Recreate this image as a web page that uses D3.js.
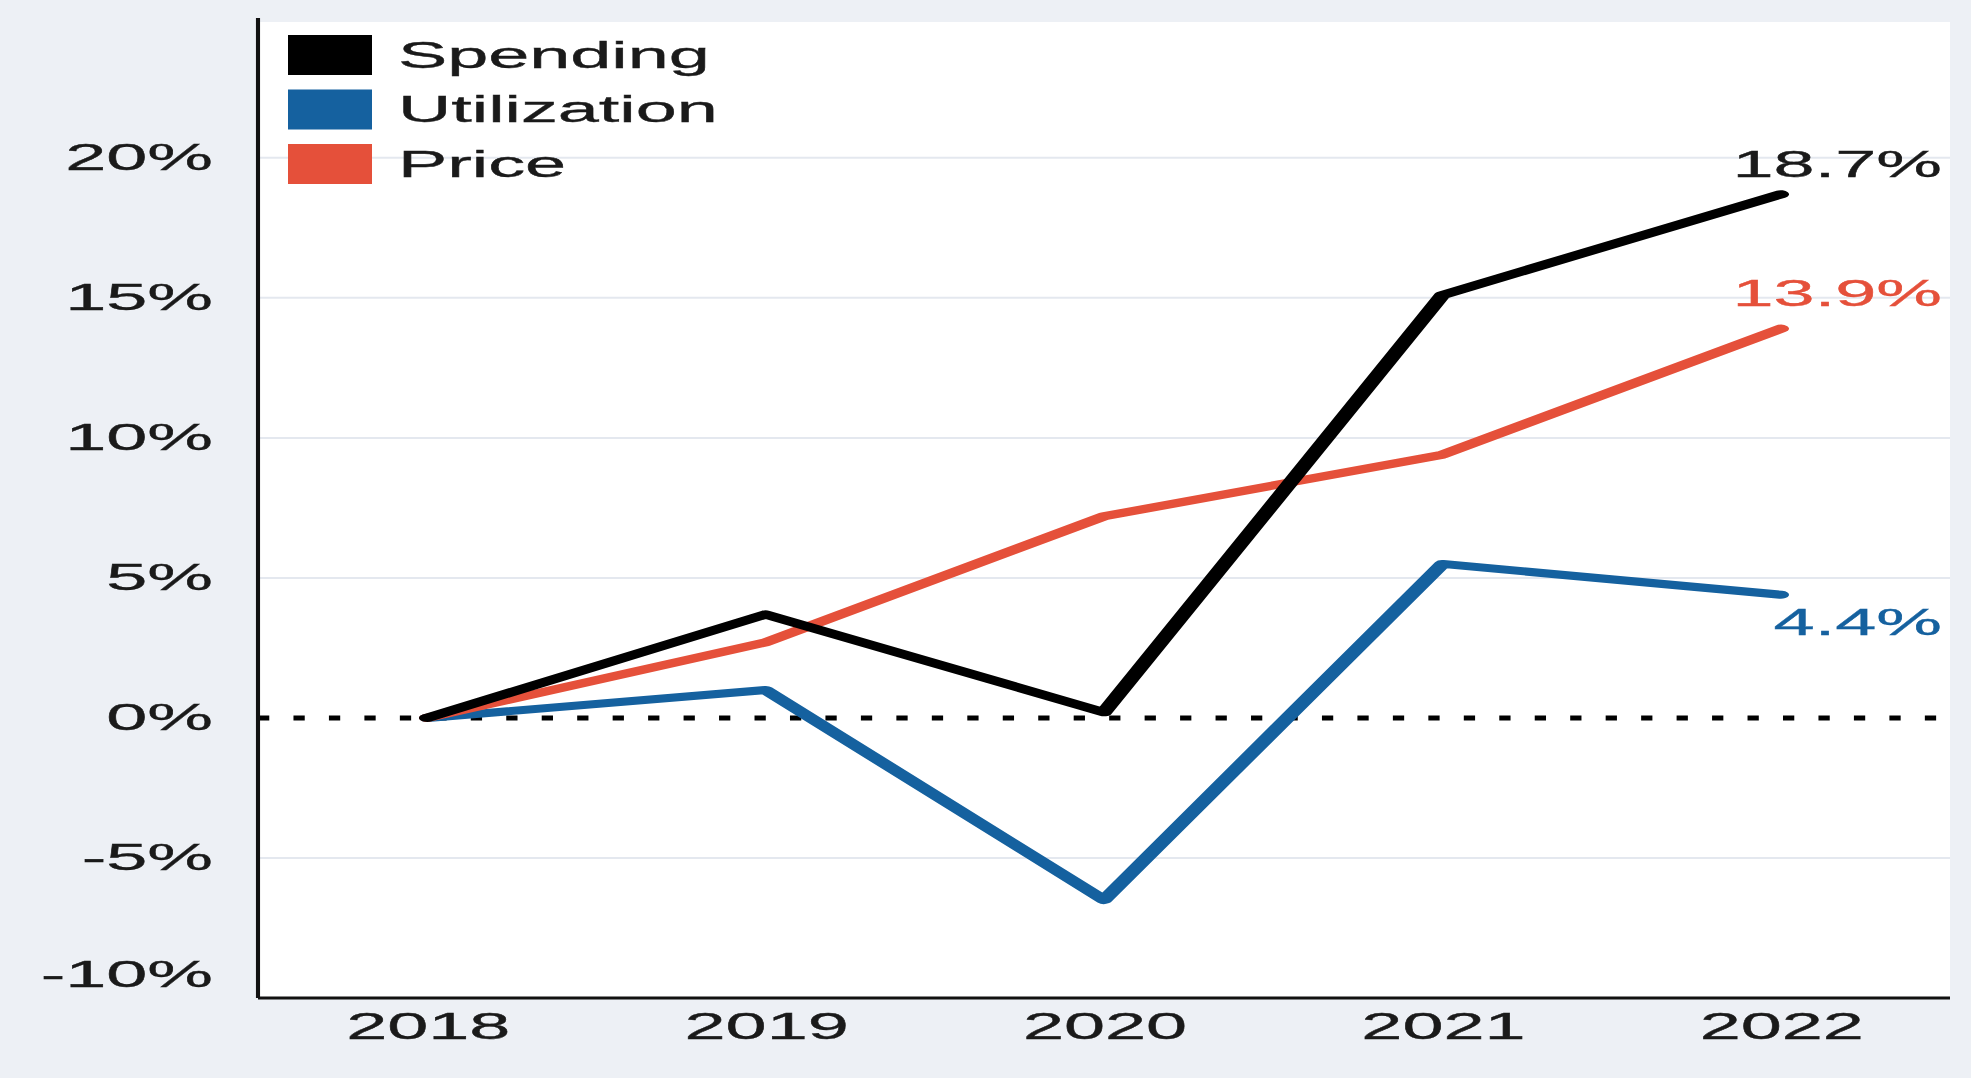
<!DOCTYPE html>
<html>
<head>
<meta charset="utf-8">
<script src="https://cdn.jsdelivr.net/npm/d3@7"></script>
<style>
  html, body { margin: 0; padding: 0; background: #edf0f5; }
  svg { display: block; }
  text { font-family: "Liberation Sans", Arial, sans-serif; stroke-width: 0.35px; }
</style>
</head>
<body>
<div id="chart"></div>
<script>
// Data
const years = ["2018", "2019", "2020", "2021", "2022"];
const spending = [0, 3.7, 0.2, 15.1, 18.7];
const utilization = [0, 1.0, -6.5, 5.5, 4.4];
const price = [0, 2.7, 7.2, 9.4, 13.9];
const yTicks = [-10, -5, 0, 5, 10, 15, 20];

const seriesNames = ["Spending", "Utilization", "Price"];
const seriesColors = ["#000000", "#15619f", "#e5503a"];

const W = 1971, H = 1078;
// the reference is drawn squeezed and then stretched sideways
const SX = 2.05;
const vbW = W / SX;
const fontSize = 36;
const textColor = "#1a1a1a";

const margin = { top: 22, right: (W - 1950) / SX, bottom: H - 998, left: 258 / SX };

const svg = d3.select("#chart")
    .append("svg")
    .attr("width", W)
    .attr("height", H)
    .attr("viewBox", `0 0 ${vbW} ${H}`)
    .attr("preserveAspectRatio", "none");

svg.append("rect")
    .attr("width", vbW).attr("height", H)
    .attr("fill", "#edf0f5");

// plot area
svg.append("rect")
    .attr("x", margin.left)
    .attr("y", margin.top)
    .attr("width", vbW - margin.left - margin.right)
    .attr("height", H - margin.top - margin.bottom)
    .attr("fill", "#ffffff");

const x = d3.scalePoint()
    .domain(years)
    .range([margin.left, vbW - margin.right])
    .padding(0.5);

const y = d3.scaleLinear()
    .domain([-10, 24.85])
    .range([H - margin.bottom, margin.top]);

// gridlines
svg.append("g")
    .selectAll("line")
    .data(yTicks.filter(d => d !== 0 && d !== -10))
    .join("line")
    .attr("x1", margin.left)
    .attr("x2", vbW - margin.right)
    .attr("y1", d => y(d))
    .attr("y2", d => y(d))
    .attr("stroke", "#e4e8ef")
    .attr("stroke-width", 2);

// zero line, dotted
svg.append("line")
    .attr("x1", margin.left)
    .attr("x2", vbW - margin.right)
    .attr("y1", y(0))
    .attr("y2", y(0))
    .attr("stroke", "#000")
    .attr("stroke-width", 5)
    .attr("stroke-dasharray", "5.5 11.8");

// y axis labels
const yAxis = svg.append("g")
    .attr("transform", `translate(${margin.left},0)`)
    .call(d3.axisLeft(y).tickValues(yTicks).tickFormat(d => d + "%").tickSize(0).tickPadding(22));
yAxis.select(".domain").remove();
yAxis.selectAll("text")
    .attr("font-size", fontSize)
    .attr("font-family", "Liberation Sans, Arial, sans-serif")
    .attr("fill", textColor)
    .attr("stroke", textColor);
// bottom label is pushed up off the axis line
yAxis.selectAll(".tick")
    .filter(d => d === -10)
    .select("text")
    .attr("y", -23);

// x axis labels
const xAxis = svg.append("g")
    .attr("transform", `translate(0,${H - margin.bottom})`)
    .call(d3.axisBottom(x).tickSize(0).tickPadding(15));
xAxis.select(".domain").remove();
xAxis.selectAll("text")
    .attr("font-size", fontSize)
    .attr("font-family", "Liberation Sans, Arial, sans-serif")
    .attr("fill", textColor)
    .attr("stroke", textColor);

// axis lines
svg.append("line")
    .attr("x1", margin.left).attr("x2", margin.left)
    .attr("y1", margin.top - 4).attr("y2", H - margin.bottom)
    .attr("stroke", "#111").attr("stroke-width", 2);
svg.append("line")
    .attr("x1", margin.left).attr("x2", vbW - margin.right)
    .attr("y1", H - margin.bottom).attr("y2", H - margin.bottom)
    .attr("stroke", "#111").attr("stroke-width", 3);

// series lines
const allSeries = [spending, utilization, price];
const line = d3.line()
    .x((d, i) => x(years[i]))
    .y(d => y(d));

// draw blue first, then red, black on top
[1, 2, 0].forEach(k => {
    svg.append("path")
        .datum(allSeries[k])
        .attr("d", line)
        .attr("fill", "none")
        .attr("stroke", seriesColors[k])
        .attr("stroke-width", 8)
        .attr("stroke-linejoin", "round")
        .attr("stroke-linecap", "round");
});

// end labels
const last = years.length - 1;
const labelOffsets = [-30, 28, -35];
allSeries.forEach((vals, k) => {
    const c = k === 0 ? textColor : seriesColors[k];
    svg.append("text")
        .attr("x", x(years[last]) + 161 / SX)
        .attr("y", y(vals[last]) + labelOffsets[k])
        .attr("dy", "0.35em")
        .attr("text-anchor", "end")
        .attr("font-size", fontSize)
        .attr("fill", c)
        .attr("stroke", c)
        .text(vals[last].toFixed(1) + "%");
});

// legend
const legend = svg.append("g")
    .attr("transform", `translate(${288 / SX},35)`);
seriesNames.forEach((name, i) => {
    legend.append("rect")
        .attr("x", 0)
        .attr("y", i * 54.5)
        .attr("width", 84 / SX)
        .attr("height", 40)
        .attr("fill", seriesColors[i]);
    legend.append("text")
        .attr("x", 110 / SX)
        .attr("y", i * 54.5 + 20)
        .attr("dy", "0.35em")
        .attr("font-size", fontSize)
        .attr("fill", textColor)
        .attr("stroke", textColor)
        .text(name);
});
</script>
</body>
</html>
